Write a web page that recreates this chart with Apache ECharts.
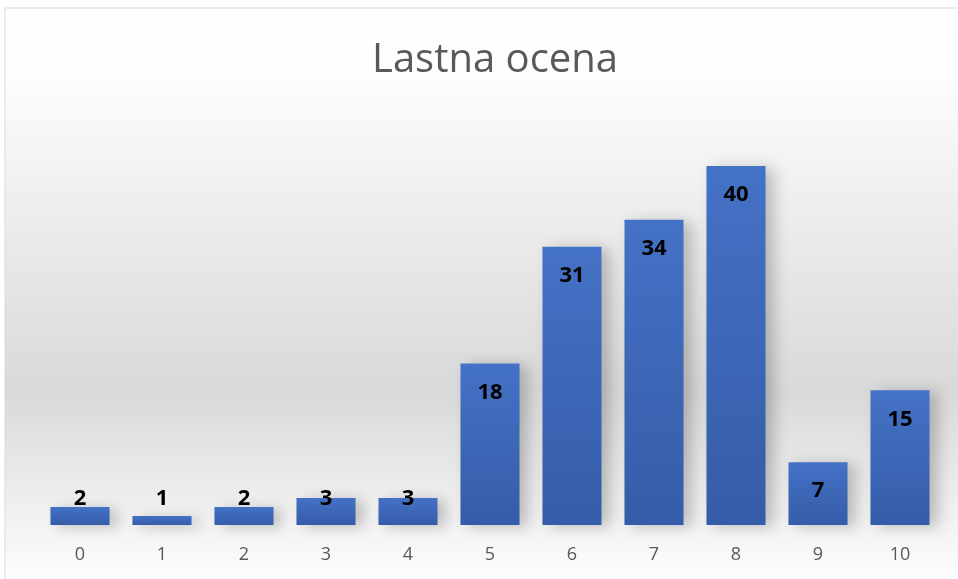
<!DOCTYPE html>
<html>
<head>
<meta charset="utf-8">
<script src="https://cdn.jsdelivr.net/npm/echarts@6/dist/echarts.min.js"></script>
<style>
  html, body { margin: 0; padding: 0; background: #fff; }
  #chart { width: 958px; height: 579px; }
</style>
</head>
<body>
<div id="chart"></div>
<script>
  var categories = ['0', '1', '2', '3', '4', '5', '6', '7', '8', '9', '10'];
  var values = [2, 1, 2, 3, 3, 18, 31, 34, 40, 7, 15];
  var chartTitle = 'Lastna ocena';

  /* E-chart */
  var chart = echarts.init(document.getElementById('chart'));

  var barData = values.map(function (v) {
    // short bars: Excel pushes the label up so it stays readable
    if (v < 5) {
      return { value: v, label: { position: 'insideBottom', distance: 15 } };
    }
    return v;
  });

  var option = {
    animation: false,
    graphic: [
      {
        type: 'rect',
        z: -10,
        shape: { x: 5, y: 8, width: 960, height: 580 },
        style: {
          stroke: '#d9d9d9',
          lineWidth: 1,
          fill: new echarts.graphic.LinearGradient(0, 0, 0, 1, [
            { offset: 0, color: '#ffffff' },
            { offset: 0.12, color: '#fdfdfd' },
            { offset: 0.4, color: '#eaeaea' },
            { offset: 0.66, color: '#d9d9d9' },
            { offset: 0.9, color: '#f4f4f4' },
            { offset: 1, color: '#ffffff' }
          ])
        }
      }
    ],
    title: {
      text: chartTitle,
      left: 367,
      top: 36,
      textStyle: {
        fontFamily: 'Open Sans',
        fontWeight: 'normal',
        fontSize: 40,
        color: '#595959'
      }
    },
    grid: {
      top: 121,
      left: 39,
      right: 17,
      bottom: 54
    },
    xAxis: {
      type: 'category',
      data: categories,
      axisLine: { show: false },
      axisTick: { show: false },
      axisLabel: {
        fontFamily: 'Open Sans',
        fontSize: 18,
        color: '#595959',
        margin: 21
      }
    },
    yAxis: {
      type: 'value',
      min: 0,
      max: 45,
      show: false,
      splitLine: { show: false }
    },
    series: [
      {
        type: 'bar',
        data: barData,
        barWidth: '72%',
        itemStyle: {
          color: new echarts.graphic.LinearGradient(0, 0, 0, 1, [
            { offset: 0, color: '#4472c6' },
            { offset: 1, color: '#355ca8' }
          ]),
          shadowColor: 'rgba(0,0,0,0.22)',
          shadowBlur: 14,
          shadowOffsetX: 8,
          shadowOffsetY: 2
        },
        label: {
          show: true,
          position: 'insideTop',
          distance: 18,
          fontFamily: 'Open Sans',
          fontWeight: 'bold',
          fontSize: 22,
          color: '#000000'
        }
      }
    ]
  };
  chart.setOption(option);
  /* E-chart */
</script>
</body>
</html>
